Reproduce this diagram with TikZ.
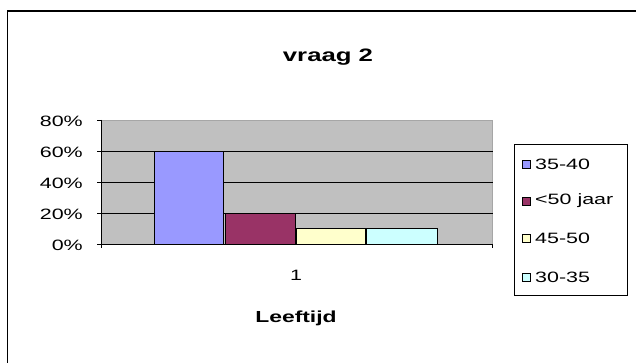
\documentclass[tikz,border=0pt]{standalone}
\usepackage{fontspec}
\setmainfont[FakeStretch=1.43]{Liberation Sans}
\definecolor{plotbg}{HTML}{C0C0C0}
\definecolor{cblue}{HTML}{9999FF}
\definecolor{cmaroon}{HTML}{993366}
\definecolor{cyellow}{HTML}{FFFFCC}
\definecolor{ccyan}{HTML}{CCFFFF}
\begin{document}
\begin{tikzpicture}[x=1pt,y=-1pt,
  tick/.style={font=\fontsize{15}{15}\selectfont, anchor=east, inner sep=0pt},
  bar/.style={draw=black, line width=0.9pt},
  legtext/.style={font=\fontsize{15}{15}\selectfont, anchor=west, inner sep=0pt},
  legbox/.style={draw=black, line width=0.7pt, minimum width=8pt, minimum height=8pt, inner sep=0pt},
  grid/.style={line width=0.9pt, black}]
\useasboundingbox (0,0) rectangle (636,363);
\fill[white] (0,0) rectangle (636,363);
% outer frame (right and bottom off the picture)
\draw[line width=1.8pt] (7.5,400) -- (7.5,11) -- (700,11);
% title
\node[font=\bfseries\fontsize{18}{18}\selectfont, anchor=base, inner sep=0pt] (title) at (328,62) {vraag 2};
% plot area
\fill[plotbg] (101.5,120) rectangle (492.5,244);
\draw[gray!70, line width=0.9pt] (101.5,120) -- (492.5,120) -- (492.5,244);
\foreach \yy in {151,182,213} \draw[grid] (101.5,\yy) -- (492.5,\yy);
% bars
\draw[bar, fill=cblue] (154,244) rectangle (223,151);
\draw[bar, fill=cmaroon] (225,244) rectangle (295,213);
\draw[bar, fill=cyellow] (296,244) rectangle (365,228.5);
\draw[bar, fill=ccyan] (366,244) rectangle (437,228.5);
% axes
\draw[grid] (101.5,120) -- (101.5,248);
\draw[grid] (101.5,244) -- (492.5,244) -- (492.5,248);
\foreach \yy in {120,151,182,213,244} \draw[grid] (97,\yy) -- (101.5,\yy);
% tick labels
\node[tick] (t80) at (83,121) {80\%};
\node[tick] (t60) at (83,152) {60\%};
\node[tick] (t40) at (83,183) {40\%};
\node[tick] (t20) at (83,214) {20\%};
\node[tick] (t0) at (83,245) {0\%};
% category and axis title
\node[font=\fontsize{15}{15}\selectfont, inner sep=0pt] (cat) at (296,275.5) {1};
\node[font=\bfseries\fontsize{16}{16}\selectfont, anchor=base, inner sep=0pt] (xtitle) at (296,322) {Leeftijd};
% legend
\draw[black, line width=0.9pt] (514.5,144) rectangle (627,295);
\node[legbox, fill=cblue] (l1) at (526.5,164.5) {};
\node[legtext] (l1t) at (535,164.5) {35-40};
\node[legbox, fill=cmaroon] (l2) at (526.5,201) {};
\node[legtext] (l2t) at (535,201) {<50 jaar};
\node[legbox, fill=cyellow] (l3) at (526.5,238) {};
\node[legtext] (l3t) at (535,238) {45-50};
\node[legbox, fill=ccyan] (l4) at (526.5,277.5) {};
\node[legtext] (l4t) at (535,277.5) {30-35};
\end{tikzpicture}
\end{document}
